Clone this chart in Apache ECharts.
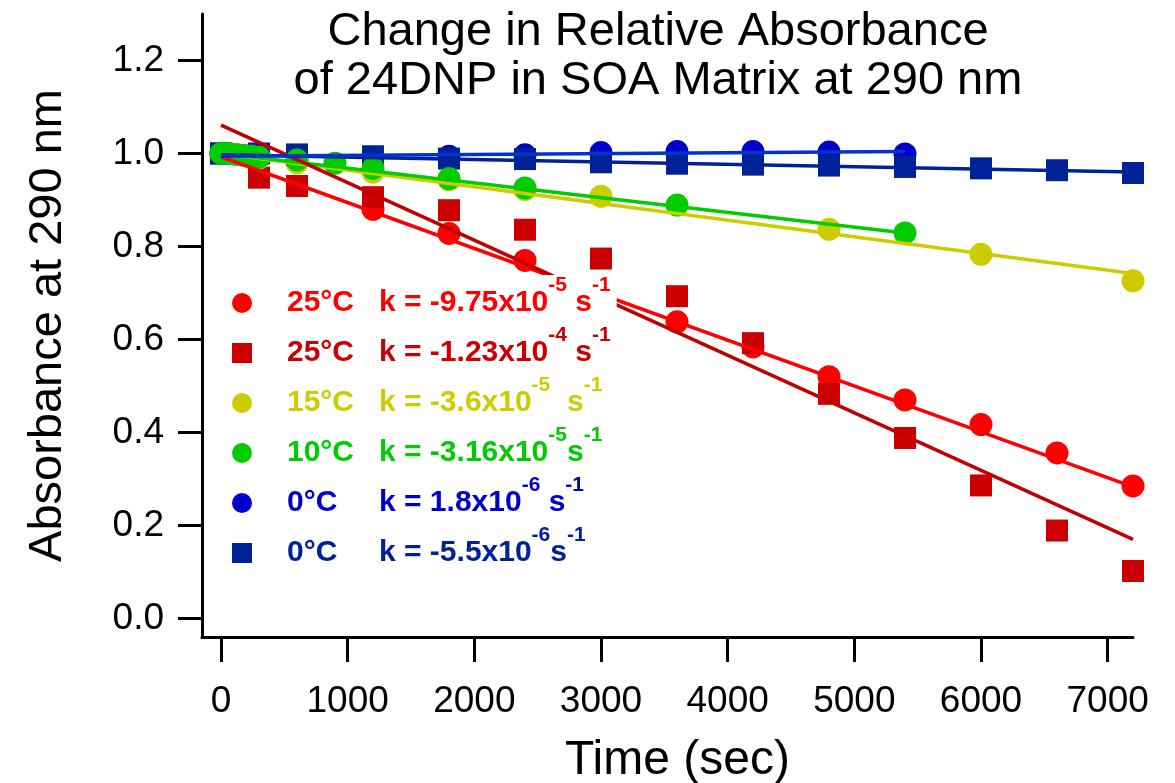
<!DOCTYPE html>
<html>
<head>
<meta charset="utf-8">
<title>Change in Relative Absorbance</title>
<script src="https://cdn.jsdelivr.net/npm/echarts@6/dist/echarts.min.js"></script>
<style>
  html, body { margin: 0; padding: 0; background: #fff; }
  #chart { width: 1175px; height: 783px; }
</style>
</head>
<body>
<div id="chart"></div>
<script>
// data: time (sec) vs relative absorbance at 290 nm
const t25Circle = [0, 1200, 1800, 2400, 3000, 3600, 4200, 4800, 5400, 6000, 6600, 7200];
const a25Circle = [1.0, 0.88, 0.828, 0.77, 0.705, 0.638, 0.584, 0.52, 0.47, 0.417, 0.356, 0.285];

const t25Square = [0, 300, 600, 1200, 1800, 2400, 3000, 3600, 4200, 4800, 5400, 6000, 6600, 7200];
const a25Square = [1.0, 0.948, 0.93, 0.906, 0.878, 0.836, 0.774, 0.693, 0.592, 0.483, 0.388, 0.286, 0.189, 0.102];

const t15 = [0, 300, 600, 1200, 1800, 2400, 3000, 4800, 6000, 7200];
const a15 = [1.0, 0.99, 0.98, 0.96, 0.943, 0.922, 0.908, 0.837, 0.783, 0.726];

const t10 = [0, 60, 120, 180, 240, 300, 600, 900, 1200, 1800, 2400, 3600, 5400];
const a10 = [1.0, 1.0, 0.998, 0.996, 0.994, 0.992, 0.986, 0.979, 0.968, 0.946, 0.926, 0.889, 0.829];

const t0Circle = [0, 1800, 2400, 3000, 3600, 4200, 4800, 5400];
const a0Circle = [1.0, 0.994, 0.997, 1.002, 1.004, 1.004, 1.003, 0.999];

const t0Square = [0, 300, 600, 1200, 1800, 2400, 3000, 3600, 4200, 4800, 5400, 6000, 6600, 7200];
const a0Square = [1.0, 1.0, 0.998, 0.994, 0.989, 0.988, 0.981, 0.978, 0.976, 0.974, 0.971, 0.968, 0.964, 0.958];

// fitted lines, start and end of each
const fit25CircleT = [0, 7200];
const fit25CircleA = [0.993, 0.283];
const fit25SquareT = [0, 7200];
const fit25SquareA = [1.061, 0.17];
const fit15T = [0, 7200];
const fit15A = [1.0, 0.742];
const fit10T = [0, 5400];
const fit10A = [1.0, 0.829];
const fit0CircleT = [0, 5400];
const fit0CircleA = [0.994, 1.004];
const fit0SquareT = [0, 7200];
const fit0SquareA = [0.997, 0.96];

const xTicks = [0, 1000, 2000, 3000, 4000, 5000, 6000, 7000];
const yTicks = [0, 0.2, 0.4, 0.6, 0.8, 1.0, 1.2];

// legend text: temperature, rate constant, exponent, gap before s
const legendNames = ['25C circle', '25C square', '15C', '10C', '0C circle', '0C square'];
const legendTemp = ['25°C', '25°C', '15°C', '10°C', '0°C', '0°C'];
const legendK = ['k = -9.75x10', 'k = -1.23x10', 'k = -3.6x10', 'k = -3.16x10', 'k = 1.8x10', 'k = -5.5x10'];
const legendExp = ['-5', '-4', '-5', '-5', '-6', '-6'];
const legendS = [' s', ' s', '  s', 's', ' s', 's'];
const colors = ['#ff0000', '#cc0000', '#cccc00', '#00cc00', '#0000cc', '#002299'];
const icons = ['circle', 'rect', 'circle', 'circle', 'circle', 'rect'];

const font = '"Liberation Sans", Arial, Helvetica, sans-serif';

function pairs(xs, ys) {
  return xs.map((x, i) => [x, ys[i]]);
}

const rich = {};
colors.forEach((c, i) => {
  rich['t' + i] = { color: c, fontFamily: font, fontWeight: 'bold', fontSize: 30, lineHeight: 56, width: 92, padding: [0, 0, 0, 30] };
  rich['k' + i] = { color: c, fontFamily: font, fontWeight: 'bold', fontSize: 30, lineHeight: 56 };
  rich['e' + i] = { color: c, fontFamily: font, fontWeight: 'bold', fontSize: 21, lineHeight: 10, verticalAlign: 'top' };
});

function scatter(name, xs, ys, color, symbol, size) {
  return {
    name: name,
    type: 'scatter',
    data: pairs(xs, ys),
    symbol: symbol,
    symbolSize: size,
    itemStyle: { color: color, opacity: 1 },
    silent: true
  };
}

function fitLine(xs, ys, color) {
  return {
    type: 'line',
    data: pairs(xs, ys),
    symbol: 'none',
    lineStyle: { color: color, width: 3.5 },
    silent: true
  };
}

const chart = echarts.init(document.getElementById('chart'));

const option = {
  animation: false,
  backgroundColor: '#fff',
  title: {
    text: 'Change in Relative Absorbance\nof 24DNP in SOA Matrix at 290 nm',
    left: 658,
    top: 8,
    textAlign: 'center',
    padding: 0,
    textStyle: {
      fontFamily: font,
      fontWeight: 'normal',
      fontSize: 47,
      lineHeight: 49,
      color: '#000'
    }
  },
  grid: {
    left: 202,
    right: 42,
    top: 14,
    bottom: 146,
    containLabel: false,
    outerBoundsMode: 'none'
  },
  legend: {
    orient: 'vertical',
    left: 222,
    top: 275,
    padding: [0, 6, 0, 10],
    itemGap: -6,
    itemWidth: 20,
    itemHeight: 20,
    backgroundColor: '#fff',
    selectedMode: false,
    data: legendNames.map((n, i) => ({ name: n, icon: icons[i] })),
    formatter: function (name) {
      const i = legendNames.indexOf(name);
      return '{t' + i + '|' + legendTemp[i] + '}{k' + i + '|' + legendK[i] + '}{e' + i + '|' + legendExp[i] + '}{k' + i + '|' + legendS[i] + '}{e' + i + '|-1}';
    },
    textStyle: { lineHeight: 56, rich: rich }
  },
  xAxis: {
    type: 'value',
    min: -150,
    max: 7200,
    name: 'Time (sec)',
    nameLocation: 'middle',
    nameGap: 100,
    nameTextStyle: { fontFamily: font, fontSize: 48, color: '#000', padding: [0, 0, 0, 20] },
    splitLine: { show: false },
    axisLine: { onZero: false, lineStyle: { color: '#000', width: 3 } },
    axisTick: { customValues: xTicks, length: 25, lineStyle: { color: '#000', width: 3 } },
    axisLabel: { customValues: xTicks, margin: 46, fontFamily: font, fontSize: 37, color: '#000', formatter: v => String(v) }
  },
  yAxis: {
    type: 'value',
    min: -0.04,
    max: 1.3,
    name: 'Absorbance at 290 nm',
    nameLocation: 'middle',
    nameGap: 130,
    nameTextStyle: { fontFamily: font, fontSize: 47, color: '#000' },
    splitLine: { show: false },
    axisLine: { onZero: false, lineStyle: { color: '#000', width: 3 } },
    axisTick: { customValues: yTicks, length: 24, lineStyle: { color: '#000', width: 3 } },
    axisLabel: {
      customValues: yTicks,
      margin: 38,
      fontFamily: font,
      fontSize: 37,
      color: '#000',
      formatter: v => v.toFixed(1)
    }
  },
  series: [
    scatter(legendNames[0], t25Circle, a25Circle, colors[0], 'circle', 23),
    scatter(legendNames[1], t25Square, a25Square, colors[1], 'rect', 22),
    scatter(legendNames[2], t15, a15, colors[2], 'circle', 23),
    scatter(legendNames[4], t0Circle, a0Circle, colors[4], 'circle', 23),
    scatter(legendNames[5], t0Square, a0Square, colors[5], 'rect', 22),
    fitLine(fit15T, fit15A, '#cccc00'),
    fitLine(fit10T, fit10A, '#00cc00'),
    fitLine(fit25CircleT, fit25CircleA, '#ff0000'),
    fitLine(fit25SquareT, fit25SquareA, '#c00000'),
    fitLine(fit0SquareT, fit0SquareA, '#002299'),
    fitLine(fit0CircleT, fit0CircleA, '#0033cc'),
    scatter(legendNames[3], t10, a10, colors[3], 'circle', 23)
  ]
};

chart.setOption(option);
</script>
</body>
</html>
